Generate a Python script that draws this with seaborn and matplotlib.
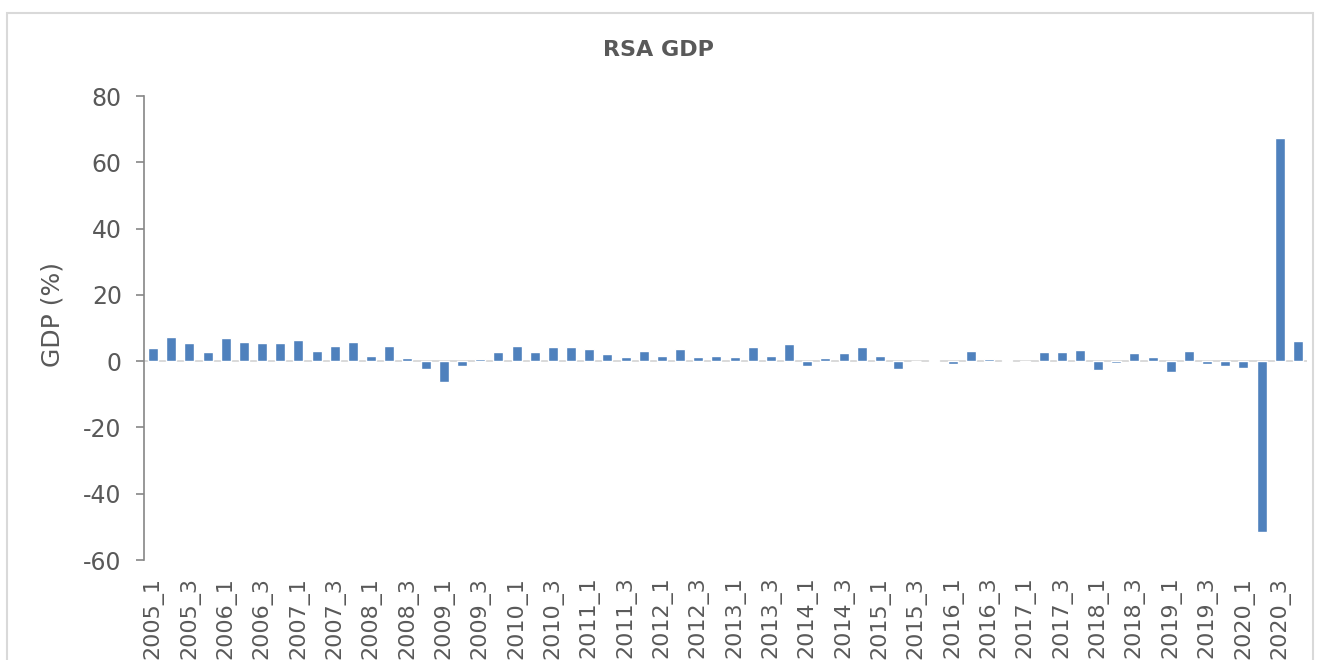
import numpy as np
import pandas as pd
import matplotlib
matplotlib.use("Agg")
import matplotlib.pyplot as plt
from matplotlib.patches import Rectangle
import seaborn as sns

# Quarterly GDP growth, 2005 Q1 - 2020 Q4
years = list(range(2005, 2021))
quarters = [1, 2, 3, 4]
quarter_labels = [f"{y}_{q}" for y in years for q in quarters]

gdp_growth = [
    4.0, 7.2, 5.4, 2.7,      # 2005
    7.1, 5.7, 5.6, 5.6,      # 2006
    6.5, 3.2, 4.5, 5.7,      # 2007
    1.5, 4.7, 0.9, -2.3,     # 2008
    -6.2, -1.4, 0.7, 2.7,    # 2009
    4.5, 2.7, 4.4, 4.2,      # 2010
    3.8, 2.3, 1.1, 3.0,      # 2011
    1.5, 3.6, 1.1, 1.7,      # 2012
    1.4, 4.2, 1.7, 5.2,      # 2013
    -1.6, 0.9, 2.5, 4.4,     # 2014
    1.7, -2.3, 0.0, 0.3,     # 2015
    -1.0, 3.0, 0.7, 0.2,     # 2016
    -0.4, 2.9, 2.7, 3.4,     # 2017
    -2.7, -0.6, 2.5, 1.3,    # 2018
    -3.3, 3.2, -1.0, -1.6,   # 2019
    -2.0, -51.7, 67.3, 6.1,  # 2020
]

y_ticks = [80, 60, 40, 20, 0, -20, -40, -60]

df = pd.DataFrame({"quarter": quarter_labels, "gdp": gdp_growth})

sns.set_style("white")
plt.rcParams["font.family"] = ["DejaVu Sans"]

text_color = "#595959"
axis_color = "#868686"
bar_color = "#4f81bd"

fig = plt.figure(figsize=(13.17, 6.60), dpi=100)
ax = fig.add_axes([144 / 1317, 1 - 560 / 660, 1163 / 1317, 464 / 660])

# zero line sits behind the bars so small quarters stay visible
ax.axhline(0, color="#d9d9d9", lw=1.4, zorder=1)

sns.barplot(data=df, x="quarter", y="gdp", color=bar_color, width=0.55,
            saturation=1, ax=ax, zorder=2)

ax.set_xlim(-0.5, len(quarter_labels) - 0.5)
ax.set_ylim(-60, 80)
ax.set_yticks(y_ticks)
ax.set_yticklabels([str(v) for v in y_ticks])

tick_pos = list(range(0, len(quarter_labels), 2))
ax.set_xticks(tick_pos)
ax.set_xticklabels([quarter_labels[i] for i in tick_pos], rotation=90,
                   fontsize=16, color=text_color)
ax.tick_params(axis="x", length=0, pad=12)
ax.tick_params(axis="y", direction="out", length=6, width=1.2, color=axis_color,
               labelsize=17, labelcolor=text_color, pad=10, left=True)

for side in ["top", "right", "bottom"]:
    ax.spines[side].set_visible(False)
ax.spines["left"].set_color(axis_color)
ax.spines["left"].set_linewidth(1.2)

ax.set_xlabel("")
ax.set_ylabel("GDP (%)", fontsize=18, color=text_color)
ax.yaxis.set_label_coords(-0.068, 0.53)

fig.text(0.5, 0.924, "RSA GDP", ha="center", va="center", fontsize=16,
         fontweight="bold", color=text_color)

# Chart frame
fig.patches.append(Rectangle((7 / 1317, -0.05), 1306 / 1317, 1.05 - 13 / 660,
                             transform=fig.transFigure, fill=False,
                             edgecolor="#d9d9d9", lw=1.5))

fig.savefig("out.png", dpi=100, facecolor="white")
